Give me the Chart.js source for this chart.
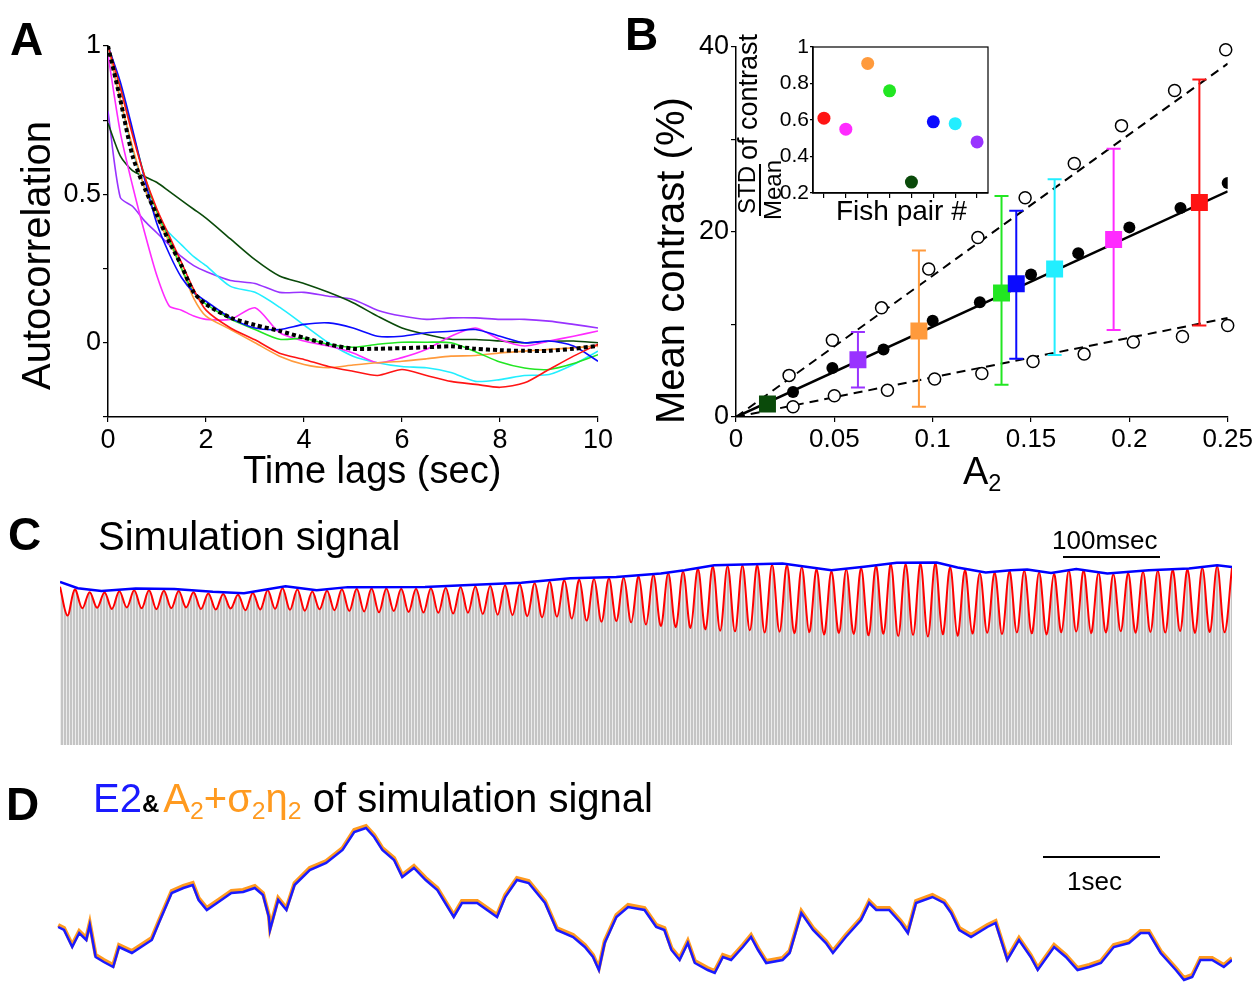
<!DOCTYPE html>
<html lang="en">
<head>
<meta charset="UTF-8">
<title>Autocorrelation, contrast and simulation signal</title>
<style>
  body { margin: 0; background: #fff; }
  #fig { position: relative; width: 1255px; height: 988px; overflow: hidden; background: #fff;
         font-family: "Liberation Sans", Arial, sans-serif; color: #000; }
  #fig canvas { position: absolute; }
  .t { position: absolute; white-space: nowrap; line-height: 1; }
  .panel { font-weight: bold; font-size: 46px; }
  .rot { transform: rotate(-90deg); transform-origin: 0 0; }
  sub { font-size: 0.62em; vertical-align: -0.28em; line-height: 0; }
  .bar { position: absolute; height: 0; border-top: 2px solid #000; }
</style>
</head>
<body>
<div id="fig">
  <canvas id="chartA" width="620" height="500" style="left:0;top:0"></canvas>
  <canvas id="chartB" width="635" height="500" style="left:620px;top:0"></canvas>
  <canvas id="chartInset" width="270" height="235" style="left:730px;top:0"></canvas>
  <canvas id="chartC" width="1215" height="260" style="left:40px;top:500px"></canvas>
  <canvas id="chartD" width="1215" height="178" style="left:40px;top:810px"></canvas>

  <div class="t panel" style="left:10px;top:16px">A</div>
  <div class="t panel" style="left:625px;top:11px">B</div>
  <div class="t panel" style="left:8px;top:511px">C</div>
  <div class="t panel" style="left:6px;top:781px">D</div>

  <div class="t rot" style="left:16px;top:390px;font-size:40px">Autocorrelation</div>
  <div class="t" style="left:243px;top:451px;font-size:38px">Time lags (sec)</div>

  <div class="t rot" style="left:650px;top:424px;font-size:40px">Mean contrast (%)</div>
  <div class="t" style="left:963px;top:452px;font-size:38px">A<sub>2</sub></div>

  <div class="t rot" style="left:735px;top:220px;font-size:24px">
    <span style="display:inline-flex;flex-direction:column;align-items:center;vertical-align:top">
      <span style="border-bottom:2px solid #000;padding:0 2px">STD</span><span>Mean</span>
    </span><span style="vertical-align:top;font-size:27px">of contrast</span>
  </div>
  <div class="t" style="left:836px;top:197px;font-size:28px">Fish pair #</div>

  <div class="t" style="left:98px;top:516px;font-size:40px">Simulation signal</div>
  <div class="t" style="left:1052px;top:527px;font-size:26px">100msec</div>
  <div class="bar" style="left:1063px;top:556px;width:97px"></div>

  <div class="t" style="left:93px;top:778px;font-size:40px"><span style="color:#1a1aff">E2</span><span style="font-weight:bold;font-size:24px;margin-right:4px">&amp;</span><span style="color:#ff9a1f">A<sub>2</sub>+σ<sub>2</sub>η<sub>2</sub></span> of simulation signal</div>
  <div class="bar" style="left:1043px;top:856px;width:117px"></div>
  <div class="t" style="left:1067px;top:868px;font-size:26px">1sec</div>
</div>

<script src="https://cdn.jsdelivr.net/npm/chart.js"></script>
<script>
// ---------- Panel A: autocorrelation of each fish pair ----------
const lagSec   = [0, 0.25, 0.5, 0.75, 1, 1.25, 1.5, 1.75, 2, 2.5, 3, 3.5, 4, 4.5, 5, 5.5, 6, 6.5, 7, 7.5, 8, 8.5, 9, 9.5, 10];
const acRed    = [1, 0.86, 0.70, 0.56, 0.45, 0.36, 0.27, 0.18, 0.11, 0.05, 0.01, -0.035, -0.056, -0.08, -0.096, -0.11, -0.09, -0.11, -0.13, -0.14, -0.15, -0.135, -0.09, -0.045, -0.005];
const acOrange = [1, 0.82, 0.66, 0.52, 0.42, 0.34, 0.25, 0.15, 0.09, 0.045, 0, -0.045, -0.073, -0.084, -0.075, -0.067, -0.062, -0.054, -0.045, -0.043, -0.034, -0.028, -0.022, -0.017, -0.01];
const acGreen  = [1, 0.87, 0.71, 0.56, 0.44, 0.35, 0.25, 0.17, 0.13, 0.08, 0.045, 0.012, 0.015, -0.005, -0.015, -0.005, 0.002, 0.002, 0, -0.03, -0.065, -0.085, -0.09, -0.07, -0.04];
const acDkGreen= [0.74, 0.63, 0.58, 0.56, 0.54, 0.51, 0.48, 0.45, 0.42, 0.35, 0.28, 0.225, 0.2, 0.17, 0.135, 0.09, 0.05, 0.028, 0.012, 0.011, 0.006, 0, 0.005, 0.006, 0];
const acBlue   = [1, 0.88, 0.72, 0.55, 0.40, 0.30, 0.22, 0.17, 0.14, 0.084, 0.05, 0.045, 0.062, 0.067, 0.05, 0.022, 0.022, 0.034, 0.039, 0.045, 0.022, 0, 0.006, -0.011, -0.062];
const acCyan   = [1, 0.82, 0.65, 0.52, 0.42, 0.37, 0.33, 0.29, 0.26, 0.19, 0.17, 0.12, 0.06, 0, -0.045, -0.067, -0.08, -0.084, -0.10, -0.13, -0.124, -0.11, -0.107, -0.073, -0.028];
const acMagenta= [0.97, 0.71, 0.53, 0.37, 0.225, 0.124, 0.11, 0.09, 0.079, 0.079, 0.118, 0.034, 0.006, -0.011, -0.034, -0.067, -0.05, -0.022, 0.022, 0.05, 0.011, -0.011, 0.006, 0.022, 0.04];
const acPurple = [0.78, 0.49, 0.46, 0.41, 0.37, 0.33, 0.29, 0.26, 0.24, 0.21, 0.20, 0.17, 0.17, 0.157, 0.146, 0.11, 0.09, 0.079, 0.084, 0.084, 0.079, 0.079, 0.073, 0.062, 0.05];
const acMean   = [1, 0.82, 0.63, 0.52, 0.43, 0.34, 0.26, 0.17, 0.13, 0.085, 0.06, 0.04, 0.017, -0.005, -0.02, -0.02, -0.018, -0.015, -0.012, -0.02, -0.025, -0.027, -0.027, -0.02, -0.01];

// ---------- Panel B: mean contrast vs A2 ----------
const meanA2        = [0.029, 0.049, 0.075, 0.100, 0.124, 0.150, 0.174, 0.200, 0.226, 0.250];
const meanContrast  = [2.7, 5.3, 7.3, 10.4, 12.4, 15.4, 17.7, 20.5, 22.6, 25.3];
const upperA2       = [0.027, 0.049, 0.074, 0.098, 0.123, 0.147, 0.172, 0.196, 0.223, 0.249];
const upperContrast = [4.5, 8.3, 11.8, 16.0, 19.4, 23.7, 27.4, 31.5, 35.3, 39.7];
const lowerA2       = [0.029, 0.050, 0.077, 0.101, 0.125, 0.151, 0.177, 0.202, 0.227, 0.250];
const lowerContrast = [1.1, 2.3, 2.9, 4.1, 4.7, 6.0, 6.8, 8.1, 8.7, 9.9];
const fitA2    = [0, 0.25];
const fitMean  = [0, 24.4];
const fitUpper = [0, 38.2];
const fitLower = [0, 10.7];

const fishColors = ['#0a4a0a', '#9933ff', '#ff9a3c', '#22e622', '#0b0bff', '#22eeff', '#ff2bff', '#ff1414'];
const fishA2     = [0.016, 0.062, 0.093, 0.135, 0.1425, 0.162, 0.192, 0.2356];
const fishMean   = [1.4, 6.2, 9.3, 13.4, 14.4, 16.0, 19.2, 23.2];
const fishLow    = [1.4, 3.2, 1.1, 3.5, 6.3, 6.7, 9.4, 9.9];
const fishHigh   = [1.4, 9.2, 18.0, 23.9, 22.3, 25.7, 29.0, 36.5];

// inset: STD/Mean of contrast per fish pair
const pairNo      = [1, 2, 3, 4, 5, 6, 7, 8];
const pairColors  = ['#ff1414', '#ff2bff', '#ff9a3c', '#22e622', '#0a4a0a', '#0b0bff', '#22eeff', '#9933ff'];
const stdOverMean = [0.61, 0.55, 0.91, 0.76, 0.26, 0.59, 0.58, 0.48];

// ---------- Panel C: simulation signal (x in beat cycles) ----------
const redPeaks = [88, 86.5, 85, 84.8, 85.5, 86.1, 86, 85.8, 85.6, 85,
                  84.3, 84, 83.5, 84.5, 86, 87.2, 86.5, 85.3, 85.8, 86.6,
                  86.9, 87, 87, 86.9, 86.9, 87.2, 87.5, 87.9, 88.2, 88.5,
                  88.9, 89.2, 90, 90.8, 91.7, 92, 92.3, 92.6, 93, 93.8,
                  94.6, 95.5, 96.5, 98.2, 99.4, 99.6, 99.8, 100, 100.2, 100.1,
                  98.9, 97.6, 96.7, 97.6, 98.4, 99.6, 100.6, 100.7, 100.8, 100.9,
                  99, 97.2, 95.5, 96, 96.6, 96.9, 95.9, 95.2, 96.9, 97,
                  95.6, 94.9, 95.6, 96.4, 96.9, 97.3, 97.6, 98.4, 99.4, 98.6];
const redTroughs = [72, 76, 76.3, 75.7, 76.5, 76, 75.5, 76.1, 76.5, 75.7,
                    75.3, 75.9, 75, 75.4, 75.8, 75.2, 74.7, 75.5, 75, 74.5,
                    74.3, 73.8, 74.5, 74, 73.7, 73.5, 73.1, 73.6, 72.9, 72.5,
                    72.3, 71.7, 71.1, 71.4, 70.3, 69.2, 68.6, 69,
                    68.2, 67, 66.2, 65.5, 65.1, 64.3, 63.6, 63.2, 63.8, 62.6,
                    63, 62.2, 62.7, 61.5, 62.3, 61.7, 61, 61.9, 60.6, 61.2,
                    60.4, 61.6, 60.8, 62, 62.4, 61.7, 62.6, 62.1, 61.5, 62.7,
                    63.1, 62.2, 62.6, 63.3, 62.4, 62.9, 62.5, 63.4, 62.3, 62.8, 62.7];
const envCycle = [0, 1.2, 2.8, 5.1, 7.7, 10.3, 12.4, 15.2, 17.3, 19.4, 24.6, 27.2, 31.1, 34.4, 37.5, 40.5, 42.1,
                  44.1, 48.7, 52, 54.2, 56.4, 59.1, 60.5, 62.4, 64.1, 65.2, 66.8, 68.5, 70.6, 73.4, 76.1, 78, 79];
const envValue = [90.7, 87.2, 85.7, 87.1, 86.7, 85.2, 84.4, 88.3, 86.1, 87.8, 87.9, 88.9, 90.2, 92.8, 93.5, 95.4, 97.2,
                  100, 100.9, 97.2, 99.1, 101.3, 101.5, 98.7, 95.9, 97.2, 97.6, 95.7, 97.9, 95.4, 97.2, 98.2, 100, 99];

// ---------- Panel D: E2 and A2 + sigma2 eta2 ----------
const e2Sec = [0.01, 0.06, 0.13, 0.19, 0.25, 0.28, 0.33, 0.40, 0.48, 0.53,
               0.64, 0.81, 0.87, 0.98, 1.08, 1.16, 1.21, 1.28, 1.38, 1.49,
               1.59, 1.69, 1.76, 1.81, 1.82, 1.89, 1.96, 2.03, 2.16, 2.30,
               2.44, 2.54, 2.64, 2.71, 2.78, 2.88, 2.95, 3.05, 3.15, 3.25,
               3.39, 3.46, 3.59, 3.76, 3.83, 3.93, 4.03, 4.10, 4.17, 4.27,
               4.41, 4.51, 4.58, 4.63, 4.68, 4.78, 4.88, 5.02, 5.12, 5.19,
               5.25, 5.32, 5.39, 5.45, 5.56, 5.62, 5.69, 5.76, 5.86, 5.93,
               5.99, 6.06, 6.20, 6.26, 6.36, 6.46, 6.57, 6.63, 6.74, 6.87,
               6.94, 7.00, 7.11, 7.21, 7.27, 7.34, 7.48, 7.58, 7.64, 7.71,
               7.81, 7.95, 8.02, 8.12, 8.22, 8.32, 8.38, 8.52, 8.62, 8.72,
               8.82, 8.92, 9.03, 9.16, 9.26, 9.33, 9.43, 9.56, 9.63, 9.70,
               9.77, 9.87, 9.97, 10.04];
const e2Val = [73, 70, 53, 67, 60, 75, 43, 38, 33, 53,
               47, 60, 77, 107, 112, 115, 100, 90, 98, 107,
               108, 112, 105, 83, 70, 100, 90, 115, 130, 137,
               150, 168, 172, 163, 150, 140, 123, 132, 120, 110,
               83, 97, 97, 83, 103, 120, 117, 107, 97, 70,
               63, 53, 43, 30, 57, 83, 93, 90, 73, 70,
               50, 40, 57, 37, 30, 27, 43, 40, 53, 63,
               50, 37, 40, 47, 87, 70, 57, 47, 63, 80,
               97, 90, 90, 77, 67, 97, 103, 97, 87, 70,
               63, 73, 77, 40, 60, 43, 30, 53, 43, 30,
               33, 37, 53, 57, 67, 67, 47, 30, 20, 23,
               40, 40, 33, 40];

Chart.defaults.font.family = "'Liberation Sans', Arial, sans-serif";
Chart.defaults.color = '#000';
Chart.defaults.animation = false;
Chart.defaults.responsive = false;
Chart.defaults.devicePixelRatio = 1;
Chart.defaults.plugins.legend.display = false;
Chart.defaults.plugins.tooltip.enabled = false;

function pts(xs, ys) {
  return xs.map((x, i) => ({ x: x, y: ys[i] }));
}

function axis(opts) {
  return Object.assign({
    type: 'linear',
    grid: { drawOnChartArea: false, drawTicks: true, tickLength: 5, color: '#000', lineWidth: 1.2 },
    border: { display: true, color: '#000', width: 1.5 }
  }, opts);
}

function tickFont(size, extra) {
  return Object.assign({ font: { size: size }, color: '#000', padding: 2, maxRotation: 0, autoSkip: false }, extra);
}

function curve(ys, color, extra) {
  return Object.assign({
    data: pts(lagSec, ys), showLine: true, borderColor: color, borderWidth: 1.6,
    pointRadius: 0, tension: 0.25
  }, extra || {});
}

// Panel A (first dataset is drawn on top)
new Chart(document.getElementById('chartA'), {
  type: 'scatter',
  data: {
    datasets: [
      curve(acMean, '#000', { borderWidth: 4, borderDash: [4, 3] }),
      curve(acRed, '#ff1414'),
      curve(acBlue, '#0b0bff'),
      curve(acGreen, '#22e622'),
      curve(acOrange, '#ff9a3c'),
      curve(acMagenta, '#ff2bff'),
      curve(acCyan, '#22eeff'),
      curve(acDkGreen, '#0a4a0a'),
      curve(acPurple, '#9933ff')
    ]
  },
  options: {
    layout: { padding: { top: 46, right: 22, left: 0, bottom: 0 } },
    scales: {
      x: axis({ min: 0, max: 10, ticks: tickFont(27, { stepSize: 2 }),
                afterFit: s => { s.height = 83; } }),
      y: axis({ min: -0.25, max: 1,
                ticks: tickFont(27, { stepSize: 0.25,
                         callback: v => (v === 1 || v === 0.5 || v === 0) ? String(v) : '' }),
                afterFit: s => { s.width = 108; } })
    }
  }
});

// Panel B
const errorBars = {
  id: 'errorBars',
  beforeDatasetDraw(chart, args) {
    if (args.index !== 0) return;
    const { ctx, scales: { x, y } } = chart;
    ctx.save();
    ctx.lineWidth = 2;
    fishA2.forEach((a, i) => {
      if (fishHigh[i] === fishLow[i]) return;
      const px = x.getPixelForValue(a);
      const top = y.getPixelForValue(fishHigh[i]);
      const bot = y.getPixelForValue(fishLow[i]);
      ctx.strokeStyle = fishColors[i];
      ctx.beginPath();
      ctx.moveTo(px, top); ctx.lineTo(px, bot);
      ctx.moveTo(px - 7, top); ctx.lineTo(px + 7, top);
      ctx.moveTo(px - 7, bot); ctx.lineTo(px + 7, bot);
      ctx.stroke();
    });
    ctx.restore();
  }
};

new Chart(document.getElementById('chartB'), {
  type: 'scatter',
  data: {
    datasets: [
      { data: pts(fishA2, fishMean), pointStyle: 'rect', pointRadius: 12, backgroundColor: fishColors, borderWidth: 0 },
      { data: pts(meanA2, meanContrast), pointRadius: 6, backgroundColor: '#000', borderColor: '#000', borderWidth: 0 },
      { data: pts(upperA2, upperContrast), pointRadius: 6, backgroundColor: '#fff', borderColor: '#000', borderWidth: 1.5, clip: false },
      { data: pts(lowerA2, lowerContrast), pointRadius: 6, backgroundColor: '#fff', borderColor: '#000', borderWidth: 1.5, clip: false },
      { data: pts(fitA2, fitMean), showLine: true, borderColor: '#000', borderWidth: 2.5, pointRadius: 0 },
      { data: pts(fitA2, fitUpper), showLine: true, borderColor: '#000', borderWidth: 2, borderDash: [9, 6], pointRadius: 0 },
      { data: pts(fitA2, fitLower), showLine: true, borderColor: '#000', borderWidth: 2, borderDash: [9, 6], pointRadius: 0 }
    ]
  },
  options: {
    layout: { padding: { top: 47, right: 26, left: 0, bottom: 0 } },
    scales: {
      x: axis({ min: 0, max: 0.25,
                ticks: tickFont(26, { stepSize: 0.05, callback: v => String(+v.toFixed(2)) }),
                afterFit: s => { s.height = 83; } }),
      y: axis({ min: 0, max: 40,
                ticks: tickFont(27, { stepSize: 10, callback: v => (v % 20 === 0) ? String(v) : '' }),
                afterFit: s => { s.width = 116; } })
    }
  },
  plugins: [errorBars]
});

// Inset of panel B
const frame = {
  id: 'frame',
  afterDraw(chart) {
    const { ctx, chartArea: a } = chart;
    ctx.save();
    ctx.strokeStyle = '#000';
    ctx.lineWidth = 1.2;
    ctx.strokeRect(a.left, a.top, a.right - a.left, a.bottom - a.top);
    ctx.restore();
  }
};

new Chart(document.getElementById('chartInset'), {
  type: 'scatter',
  data: {
    datasets: [
      { data: pts(pairNo, stdOverMean), pointRadius: 6.5, backgroundColor: pairColors, borderWidth: 0 }
    ]
  },
  options: {
    layout: { padding: { top: 47, right: 12, left: 0, bottom: 0 } },
    scales: {
      x: axis({ min: 0.5, max: 8.5, ticks: { display: false },
                afterBuildTicks: s => { s.ticks = pairNo.map(v => ({ value: v })); },
                afterFit: s => { s.height = 42; } }),
      y: axis({ min: 0.2, max: 1,
                grid: { drawOnChartArea: false, drawTicks: true, tickLength: 3, color: '#000', lineWidth: 1.2 },
                ticks: tickFont(21, { stepSize: 0.2, padding: 1,
                         callback: v => (Math.abs(v - 1) < 1e-9) ? '1' : v.toFixed(1) }),
                afterFit: s => { s.width = 83; } })
    }
  },
  plugins: [frame]
});

// Panel C: carrier texture under the red trace
function stripePattern() {
  const c = document.createElement('canvas');
  c.width = 3; c.height = 4;
  const g = c.getContext('2d');
  g.fillStyle = '#ececec'; g.fillRect(0, 0, 3, 4);
  g.fillStyle = '#c4c4c4'; g.fillRect(0, 0, 2, 4);
  return g.createPattern(c, 'repeat');
}

const redSignal = [];
redPeaks.forEach((p, i) => {
  redSignal.push({ x: i, y: p });
  if (i < redTroughs.length) redSignal.push({ x: i + 0.5, y: redTroughs[i] });
});

new Chart(document.getElementById('chartC'), {
  type: 'scatter',
  data: {
    datasets: [
      { data: pts(envCycle, envValue), showLine: true, borderColor: '#0000ff', borderWidth: 2.5, pointRadius: 0 },
      { data: redSignal, showLine: true, borderColor: '#ff0000', borderWidth: 2, pointRadius: 0, tension: 0.35,
        fill: 'origin', backgroundColor: stripePattern() }
    ]
  },
  options: {
    layout: { padding: { top: 58, right: 23, left: 20, bottom: 15 } },
    scales: {
      x: { type: 'linear', display: false, min: 0, max: 79 },
      y: { type: 'linear', display: false, min: 0, max: 104 }
    }
  }
});

// Panel D (orange copy drawn underneath, lifted 2px)
const lift = {
  id: 'lift',
  beforeDatasetDraw(chart, args) {
    if (args.index === 1) { chart.ctx.save(); chart.ctx.translate(0, -2); }
  },
  afterDatasetDraw(chart, args) {
    if (args.index === 1) chart.ctx.restore();
  }
};

new Chart(document.getElementById('chartD'), {
  type: 'scatter',
  data: {
    datasets: [
      { data: pts(e2Sec, e2Val), showLine: true, borderColor: '#1a1aff', borderWidth: 2.5, pointRadius: 0 },
      { data: pts(e2Sec, e2Val), showLine: true, borderColor: '#ff9a1f', borderWidth: 4, pointRadius: 0 }
    ]
  },
  options: {
    layout: { padding: { top: 10, right: 23, left: 17, bottom: 0 } },
    scales: {
      x: { type: 'linear', display: false, min: 0, max: 10.04 },
      y: { type: 'linear', display: false, min: 12, max: 180 }
    }
  },
  plugins: [lift]
});
</script>
</body>
</html>
